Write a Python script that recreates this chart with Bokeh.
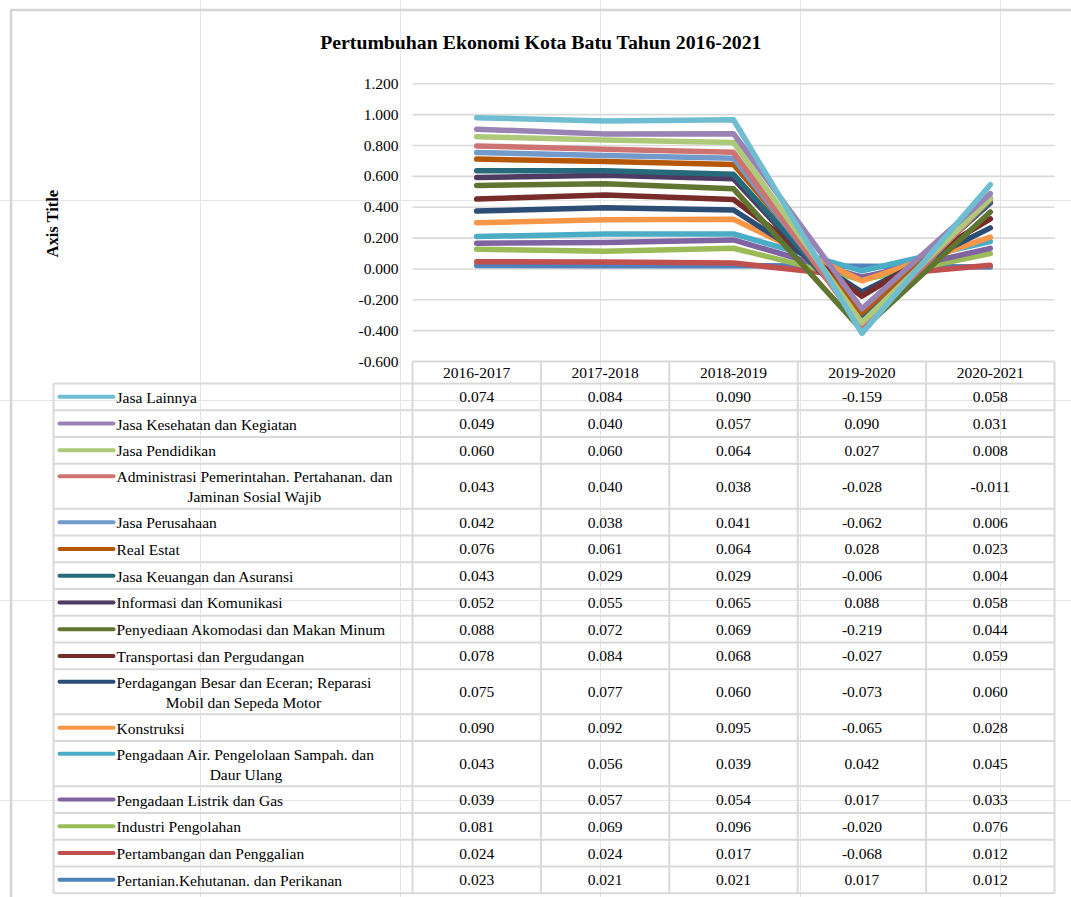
import math
from bokeh.plotting import figure
from bokeh.models import Range1d
from bokeh.core.properties import value
from bokeh.embed import file_html
from bokeh.resources import INLINE

# ---------------- data ----------------
title_text = "Pertumbuhan Ekonomi Kota Batu Tahun 2016-2021"
axis_title = "Axis Title"
periods = ["2016-2017", "2017-2018", "2018-2019", "2019-2020", "2020-2021"]
y_ticks = [-0.6, -0.4, -0.2, 0.0, 0.2, 0.4, 0.6, 0.8, 1.0, 1.2]
y_tick_labels = ["-0.600", "-0.400", "-0.200", "0.000", "0.200", "0.400",
                 "0.600", "0.800", "1.000", "1.200"]

pertanian = [0.023, 0.021, 0.021, 0.017, 0.012]
pertambangan = [0.024, 0.024, 0.017, -0.068, 0.012]
industri = [0.081, 0.069, 0.096, -0.020, 0.076]
listrik = [0.039, 0.057, 0.054, 0.017, 0.033]
air = [0.043, 0.056, 0.039, 0.042, 0.045]
konstruksi = [0.090, 0.092, 0.095, -0.065, 0.028]
perdagangan = [0.075, 0.077, 0.060, -0.073, 0.060]
transportasi = [0.078, 0.084, 0.068, -0.027, 0.059]
akomodasi = [0.088, 0.072, 0.069, -0.219, 0.044]
informasi = [0.052, 0.055, 0.065, 0.088, 0.058]
keuangan = [0.043, 0.029, 0.029, -0.006, 0.004]
real_estat = [0.076, 0.061, 0.064, 0.028, 0.023]
perusahaan = [0.042, 0.038, 0.041, -0.062, 0.006]
administrasi = [0.043, 0.040, 0.038, -0.028, -0.011]
pendidikan = [0.060, 0.060, 0.064, 0.027, 0.008]
kesehatan = [0.049, 0.040, 0.057, 0.090, 0.031]
lainnya = [0.074, 0.084, 0.090, -0.159, 0.058]

# stacking order: bottom first (label lines separated by "\n")
series = [
    ("Pertanian.Kehutanan. dan Perikanan", pertanian, "#4F81BD"),
    ("Pertambangan dan Penggalian", pertambangan, "#C0504D"),
    ("Industri Pengolahan", industri, "#9BBB59"),
    ("Pengadaan Listrik dan Gas", listrik, "#8064A2"),
    ("Pengadaan Air. Pengelolaan Sampah. dan\nDaur Ulang", air, "#4BACC6"),
    ("Konstruksi", konstruksi, "#F79646"),
    ("Perdagangan Besar dan Eceran; Reparasi\nMobil dan Sepeda Motor", perdagangan, "#2C4D75"),
    ("Transportasi dan Pergudangan", transportasi, "#772C2A"),
    ("Penyediaan Akomodasi dan Makan Minum", akomodasi, "#5F7530"),
    ("Informasi dan Komunikasi", informasi, "#4D3B62"),
    ("Jasa Keuangan dan Asuransi", keuangan, "#276A7C"),
    ("Real Estat", real_estat, "#B65708"),
    ("Jasa Perusahaan", perusahaan, "#729ACA"),
    ("Administrasi Pemerintahan. Pertahanan. dan\nJaminan Sosial Wajib", administrasi, "#CD7371"),
    ("Jasa Pendidikan", pendidikan, "#AFC97A"),
    ("Jasa Kesehatan dan Kegiatan", kesehatan, "#9983B5"),
    ("Jasa Lainnya", lainnya, "#6FBDD1"),
]

# ---------------- layout (page pixels) ----------------
FONT = value("Liberation Serif")
FS = "15.5px"
GRID = "#d9d9d9"
PL, PR = 412.0, 1054.0      # plot area left/right
PT, PB = 83.3, 361.0        # plot area top/bottom (1.2 / -0.6)
X0, X1, Y0, Y1 = 0.0, 1071.0, 0.0, 897.0
TBL_L = 53.0
HDR_BOTTOM = 383.0
H1, H2 = 26.74, 45.1
LINE2_CENTER = {"Administrasi": 254.0, "Perdagangan": 243.0, "Pengadaan Air": 245.5}

p = figure(width=int(X1 - X0), height=int(Y1 - Y0),
           x_range=Range1d(X0, X1), y_range=Range1d(Y1, Y0),
           min_border=0, toolbar_location=None, output_backend="svg",
           x_axis_location=None, y_axis_location=None)
p.outline_line_color = None
p.background_fill_color = "white"
p.border_fill_color = "white"

unit = (PR - PL) / len(periods)
p.extra_x_ranges = {"cat": Range1d(-0.5 - (PL - X0) / unit, len(periods) - 0.5 + (X1 - PR) / unit)}
vpp = (y_ticks[-1] - y_ticks[0]) / (PB - PT)
p.extra_y_ranges = {"val": Range1d(y_ticks[0] - (Y1 - PB) * vpp, y_ticks[-1] + (PT - Y0) * vpp)}

# outer chart border
p.segment(x0=[10.5, 9.5], y0=[9.5, 9.5], x1=[10.5, X1], y1=[Y1, 9.5],
          line_color="#d4d4d4", line_width=2.5)

# title and axis title
p.text(x=[540.5], y=[41], text=[title_text], text_font=FONT, text_font_size="19.8px",
       text_font_style="bold", text_align="center", text_baseline="middle", text_color="black")
p.text(x=[52], y=[223], text=[axis_title], angle=math.pi / 2, text_font=FONT,
       text_font_size="16.5px", text_font_style="bold", text_align="center",
       text_baseline="middle", text_color="black")

# gridlines (except bottom one which is the table header edge)
xs = list(range(len(periods)))
p.segment(x0=-0.5, x1=len(periods) - 0.5, y0=y_ticks[1:], y1=y_ticks[1:],
          x_range_name="cat", y_range_name="val", line_color=GRID, line_width=1.6)

# y tick labels
p.text(x=[398] * len(y_ticks), y=y_ticks, text=y_tick_labels, y_range_name="val",
       text_font=FONT, text_font_size=FS, text_align="right", text_baseline="middle",
       text_color="black")

# stacked lines
cum = [0.0] * len(periods)
for name, vals, color in series:
    cum = [c + v for c, v in zip(cum, vals)]
    p.line(x=xs, y=list(cum), x_range_name="cat", y_range_name="val",
           line_color=color, line_width=5.5, line_cap="round", line_join="round")

# ---------------- data table ----------------
rows = list(reversed(series))
tops = [HDR_BOTTOM]
for name, _, _ in rows:
    tops.append(tops[-1] + (H2 if "\n" in name else H1))
bottom = tops[-1]

# header
bounds = [i - 0.5 for i in range(len(periods) + 1)]
p.segment(x0=bounds, x1=bounds, y0=PB, y1=bottom, x_range_name="cat",
          line_color=GRID, line_width=2)
p.segment(x0=[PL], x1=[PR], y0=[PB], y1=[PB], line_color=GRID, line_width=2)
p.text(x=xs, y=[(PB + HDR_BOTTOM) / 2 + 0.5] * len(periods), text=periods, x_range_name="cat",
       text_font=FONT, text_font_size=FS, text_align="center", text_baseline="middle",
       text_color="black")

# row borders
p.segment(x0=[TBL_L], x1=[TBL_L], y0=[HDR_BOTTOM], y1=[bottom], line_color=GRID, line_width=2)
p.segment(x0=TBL_L, x1=PR, y0=tops, y1=tops, line_color=GRID, line_width=2)

for i, (name, vals, color) in enumerate(rows):
    top, bot = tops[i], tops[i + 1]
    mid = (top + bot) / 2
    lines = name.split("\n")
    if len(lines) == 1:
        ly = mid
        p.text(x=[116], y=[mid + 0.5], text=[name], text_font=FONT, text_font_size=FS,
               text_align="left", text_baseline="middle", text_color="black")
    else:
        ly = mid - 10
        cx = [v for k, v in LINE2_CENTER.items() if name.startswith(k)][0]
        p.text(x=[116], y=[mid - 10 + 0.5], text=[lines[0]], text_font=FONT, text_font_size=FS,
               text_align="left", text_baseline="middle", text_color="black")
        p.text(x=[cx], y=[mid + 10 + 0.5], text=[lines[1]], text_font=FONT, text_font_size=FS,
               text_align="center", text_baseline="middle", text_color="black")
    p.segment(x0=[59], x1=[113], y0=[ly], y1=[ly], line_color=color, line_width=4,
              line_cap="round")
    p.text(x=xs, y=[mid + 0.5] * len(vals), text=["%.3f" % v for v in vals],
           x_range_name="cat", text_font=FONT, text_font_size=FS, text_align="center",
           text_baseline="middle", text_color="black")

open("out.html", "w").write(file_html(p, INLINE))
